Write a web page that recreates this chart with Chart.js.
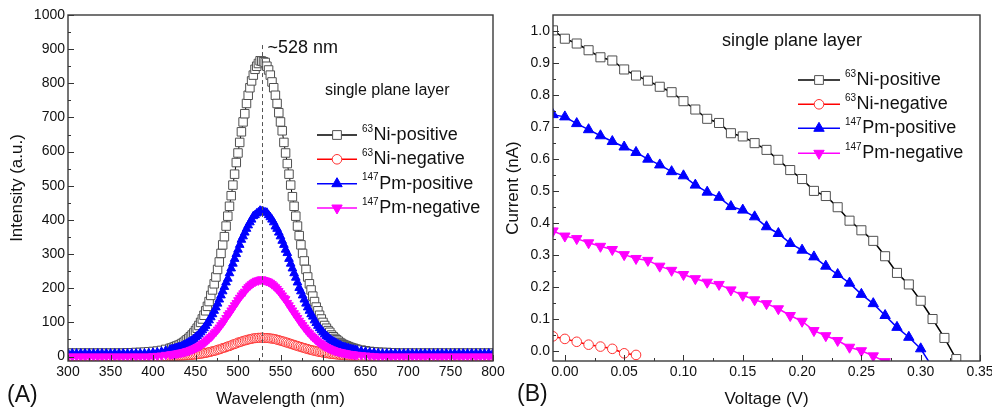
<!DOCTYPE html>
<html>
<head>
<meta charset="utf-8">
<title>Radioluminescence spectra and I-V curves</title>
<script src="https://cdn.jsdelivr.net/npm/chart.js@4.4.1/dist/chart.umd.min.js"></script>
<style>
  html, body { margin: 0; padding: 0; background: #fff; overflow: hidden; }
  #wrap { position: relative; width: 992px; height: 408px; overflow: hidden; }
  canvas { position: absolute; top: 0; }
  #specChart { left: 0; }
  #ivChart { left: 500px; }
</style>
</head>
<body>
<div id="wrap">
  <canvas id="specChart" width="510" height="408"></canvas>
  <canvas id="ivChart" width="500" height="408"></canvas>
</div>
<script>
// ---- (A) emission spectra ----
// 5 nm steps in the flat wings, 2 nm across the emission band
const wavelength = [
  300, 305, 310, 315, 320, 325, 330, 335, 340, 345, 350, 355, 360, 365, 370, 375, 380, 385, 390, 395, 400, 405, 410, 415, 420,
  422, 424, 426, 428, 430, 432, 434, 436, 438, 440, 442, 444, 446, 448, 450, 452, 454, 456, 458, 460, 462, 464, 466, 468, 470,
  472, 474, 476, 478, 480, 482, 484, 486, 488, 490, 492, 494, 496, 498, 500, 502, 504, 506, 508, 510, 512, 514, 516, 518, 520,
  522, 524, 526, 528, 530, 532, 534, 536, 538, 540, 542, 544, 546, 548, 550, 552, 554, 556, 558, 560, 562, 564, 566, 568, 570,
  572, 574, 576, 578, 580, 582, 584, 586, 588, 590, 592, 594, 596, 598, 600, 602, 604, 606, 608, 610, 612, 614, 616, 618, 620,
  622, 624, 626, 628, 630, 632, 634, 636, 638, 640,
  645, 650, 655, 660, 665, 670, 675, 680, 685, 690, 695, 700, 705, 710, 715, 720, 725, 730, 735, 740, 745, 750, 755, 760, 765,
  770, 775, 780, 785, 790, 795, 800
];

const niPositive = [
  10, 10, 10, 10, 10, 10, 10, 10, 10, 10, 10, 10, 10, 10, 11, 11, 12, 12, 13, 14, 15, 16, 18, 21, 24,
  25, 27, 29, 31, 33, 35, 38, 41, 45, 49, 53, 58, 63, 69, 76, 83, 91, 100, 110, 121,
  134, 147, 161, 179, 195, 213, 233, 255, 277, 302, 327, 351, 382, 411, 440, 471, 502, 534, 568, 596,
  627, 658, 687, 711, 741, 765, 787, 807, 824, 841, 850, 858, 866,
  865,
  863, 861, 850, 839, 824, 804, 787, 765, 741, 714, 687, 661, 627, 596, 565, 534, 502, 468, 440, 411,
  382, 354, 327, 302, 280, 255, 233, 213, 195, 177, 161, 145, 134, 121, 110, 100, 91, 83, 76, 71,
  63, 58, 53, 49, 45, 41, 38, 35, 33, 31, 29, 27, 25, 24, 22, 21,
  19, 17, 15, 14, 13, 12, 12, 11, 11, 10, 10, 10, 10, 10, 10, 10, 10, 10, 10, 10, 10, 10, 10, 10, 10,
  10, 10, 10, 10, 10, 10, 10
];

const niNegative = [
  0, 0, 0, 0, 0, 0, 0, 0, 0, 0, 0, 0, 0, 0, 0, 0, 0, 0, 0, 0, 0, 0, 0, 1, 1.5,
  1.6, 1.8, 1.9, 2.1, 2.3, 2.6, 2.8, 3.1, 3.4, 3.8, 4.2, 4.6, 5.1, 5.6, 6.2, 6.8, 7.4, 8.2, 9.0, 9.8,
  10.8, 11.8, 12.8, 14.0, 15.6, 16.5, 17.9, 19.9, 20.9, 22.4, 25.0, 25.8, 27.5, 29.9, 30.6, 32.9, 35.4, 36.6, 38.4, 41.2,
  42.0, 43.7, 46.0, 46.9, 48.3, 49.9, 50.8, 51.9, 53.4, 53.6, 54.2, 55.1, 54.9,
  55.6,
  54.9, 54.2, 54.3, 53.9, 53.0, 52.6, 51.8, 50.8, 49.3, 48.0, 46.5, 45.0, 43.9, 41.7, 40.8, 38.6, 37.6, 35.4, 34.5, 32.2,
  31.2, 29.1, 28.3, 26.0, 25.2, 23.1, 22.3, 20.3, 19.5, 17.8, 17.0, 15.4, 14.8, 13.3, 12.8, 11.5, 11.0, 9.8, 9.3, 8.3,
  7.9, 7.1, 6.7, 6.0, 5.7, 5.1, 4.8, 4.3, 4.0, 3.6, 3.4, 3.0, 2.8, 2.6, 2.4, 2.2,
  2, 1.5, 1, 0.5, 0, 0, 0, 0, 0, 0, 0, 0, 0, 0, 0, 0, 0, 0, 0, 0, 0, 0, 0, 0, 0,
  0, 0, 0, 0, 0, 0, 0
];

const pmPositive = [
  9, 9, 9, 9, 9, 9, 9, 9, 9, 9, 9, 9, 9, 9, 9, 9, 9, 9, 9, 10, 11, 12, 14, 17, 20,
  21, 22, 24, 25, 27, 28, 30, 33, 35, 38, 41, 44, 47, 51, 56, 60, 65, 71, 77, 83,
  90, 98, 106, 115, 124, 134, 144, 155, 167, 179, 191, 204, 217, 228, 244, 258, 272, 286, 300, 313,
  327, 342, 352, 363, 374, 384, 393, 401, 411, 414, 419, 422, 427,
  425,
  424, 422, 421, 414, 408, 401, 393, 381, 374, 363, 352, 339, 327, 313, 303, 286, 272, 258, 244, 231,
  217, 201, 191, 179, 167, 155, 144, 134, 124, 117, 106, 98, 90, 83, 77, 71, 65, 60, 56, 51,
  47, 44, 41, 38, 35, 33, 30, 28, 27, 25, 24, 22, 21, 20, 19, 18,
  16, 14, 12, 11, 10, 9, 9, 9, 9, 9, 9, 9, 9, 9, 9, 9, 9, 9, 9, 9, 9, 9, 9, 9, 9,
  9, 9, 9, 9, 9, 9, 9
];

const pmNegative = [
  0, 0, 0, 0, 0, 0, 0, 0, 0, 0, 0, 0, 0, 0, 0, 0, 0, 0, 0, 0, 1, 2, 3, 5, 6,
  7, 7, 8, 9, 10, 11, 12, 13, 14, 16, 17, 19, 21, 23, 25, 28, 30, 33, 37, 40,
  44, 48, 53, 57, 62, 68, 73, 79, 85, 92, 98, 105, 113, 122, 127, 135, 142, 150, 157, 165,
  172, 179, 185, 190, 198, 203, 208, 212, 216, 219, 222, 223, 225,
  226,
  224, 223, 221, 219, 216, 212, 208, 203, 198, 192, 185, 179, 172, 168, 157, 150, 142, 135, 127, 120,
  113, 105, 98, 92, 85, 79, 73, 68, 62, 57, 53, 48, 44, 40, 37, 33, 30, 28, 25, 23,
  21, 19, 17, 16, 14, 13, 12, 11, 10, 9, 8, 7, 7, 6, 5, 5,
  4, 3, 2, 1, 0, 0, 0, 0, 0, 0, 0, 0, 0, 0, 0, 0, 0, 0, 0, 0, 0, 0, 0, 0, 0,
  0, 0, 0, 0, 0, 0, 0
];

const peakWavelength = 528;

// ---- (B) current-voltage curves ----
const voltage = [
  -0.01, 0.00, 0.01, 0.02, 0.03, 0.04, 0.05, 0.06, 0.07, 0.08, 0.09, 0.10, 0.11, 0.12, 0.13, 0.14, 0.15, 0.16,
  0.17, 0.18, 0.19, 0.20, 0.21, 0.22, 0.23, 0.24, 0.25, 0.26, 0.27, 0.28, 0.29, 0.30, 0.31, 0.32, 0.33
];
const ivNiPositive = [
  1.002, 0.976, 0.961, 0.940, 0.918, 0.908, 0.880, 0.861, 0.845, 0.826, 0.809, 0.781, 0.755, 0.726, 0.713, 0.681, 0.671, 0.650,
  0.629, 0.598, 0.566, 0.538, 0.501, 0.485, 0.450, 0.408, 0.378, 0.345, 0.297, 0.245, 0.209, 0.158, 0.101, 0.042, -0.024
];
const ivNiNegative = [0.047, 0.039, 0.030, 0.021, 0.015, 0.008, -0.006, -0.011];
const ivPmPositive = [
  0.739, 0.732, 0.711, 0.692, 0.673, 0.655, 0.638, 0.621, 0.600, 0.582, 0.561, 0.548, 0.519, 0.497, 0.481, 0.452, 0.441, 0.420,
  0.389, 0.368, 0.337, 0.316, 0.295, 0.266, 0.240, 0.213, 0.178, 0.149, 0.112, 0.075, 0.044, 0.008, -0.050
];
const ivPmNegative = [
  0.376, 0.360, 0.352, 0.339, 0.328, 0.318, 0.302, 0.290, 0.284, 0.266, 0.253, 0.240, 0.227, 0.216, 0.209, 0.192, 0.175, 0.161,
  0.149, 0.133, 0.112, 0.094, 0.065, 0.049, 0.034, 0.013, 0.002, -0.014, -0.032
];

// tick labels
const specTicksX = [300, 350, 400, 450, 500, 550, 600, 650, 700, 750, 800];
const specTicksY = [0, 100, 200, 300, 400, 500, 600, 700, 800, 900, 1000];
const ivTicksX = [0.00, 0.05, 0.10, 0.15, 0.20, 0.25, 0.30, 0.35];
const ivTicksY = [0.0, 0.1, 0.2, 0.3, 0.4, 0.5, 0.6, 0.7, 0.8, 0.9, 1.0];

// legend text
const legendTitle = 'single plane layer';
const isotopes = ['63', '63', '147', '147'];
const seriesNames = ['Ni-positive', 'Ni-negative', 'Pm-positive', 'Pm-negative'];

const FONT = '"Liberation Sans", Arial, Helvetica, sans-serif';
const INK = '#111';

const looks = [
  { line: '#000000', edge: '#505050', fill: '#ffffff', style: 'rect', rot: 0 },
  { line: '#ff0000', edge: '#ff3030', fill: '#ffffff', style: 'circle', rot: 0 },
  { line: '#0000ff', edge: '#0000ff', fill: '#0000ff', style: 'triangle', rot: 0 },
  { line: '#ff00ff', edge: '#ff00ff', fill: '#ff00ff', style: 'triangle', rot: 180 }
];

const xy = (xs, ys) => ys.map((y, i) => ({ x: xs[i], y }));

function makeSet(i, data, radius, lineWidth) {
  const m = looks[i];
  return {
    label: isotopes[i] + seriesNames[i],
    data,
    borderColor: m.line,
    borderWidth: lineWidth,
    pointStyle: m.style,
    pointRotation: m.rot,
    pointRadius: radius,
    pointBorderColor: m.edge,
    pointBackgroundColor: m.fill,
    pointBorderWidth: 1,
    tension: 0,
    order: 4 - i // first series at the bottom, last one on top
  };
}

function drawMarker(ctx, i, x, y, r) {
  const m = looks[i];
  ctx.save();
  ctx.translate(x, y);
  ctx.rotate(m.rot * Math.PI / 180);
  ctx.beginPath();
  if (m.style === 'rect') {
    const s = r * Math.SQRT1_2;
    ctx.rect(-s, -s, 2 * s, 2 * s);
  } else if (m.style === 'circle') {
    ctx.arc(0, 0, r, 0, 2 * Math.PI);
  } else {
    for (let k = 0; k < 3; k++) {
      const a = k * 2 * Math.PI / 3;
      ctx.lineTo(Math.sin(a) * r, -Math.cos(a) * r);
    }
    ctx.closePath();
  }
  ctx.fillStyle = m.fill;
  ctx.fill();
  ctx.lineWidth = 1;
  ctx.strokeStyle = m.edge;
  ctx.stroke();
  ctx.restore();
}

const mids = arr => arr.slice(1).map((v, i) => (v + arr[i]) / 2);

// box frame plus inward major/minor ticks
const frameTicks = {
  id: 'frameTicks',
  afterDatasetsDraw(chart, args, o) {
    const { ctx, chartArea: a, scales: { x, y } } = chart;
    ctx.save();
    ctx.strokeStyle = '#333';
    ctx.lineWidth = 1;
    ctx.beginPath();
    const vTick = (v, len) => {
      const p = Math.round(x.getPixelForValue(v)) + 0.5;
      ctx.moveTo(p, a.bottom); ctx.lineTo(p, a.bottom - len);
    };
    const hTick = (v, len) => {
      const p = Math.round(y.getPixelForValue(v)) + 0.5;
      ctx.moveTo(a.left, p); ctx.lineTo(a.left + len, p);
    };
    o.x.forEach(v => vTick(v, 6));
    mids(o.x).forEach(v => vTick(v, 3));
    o.y.forEach(v => hTick(v, 6));
    mids(o.y).forEach(v => hTick(v, 3));
    ctx.stroke();
    ctx.lineWidth = 1.4;
    ctx.strokeStyle = '#3a3a3a';
    ctx.strokeRect(a.left, a.top, a.right - a.left, a.bottom - a.top);
    ctx.restore();
  }
};

// in-plot legend with superscript mass numbers, plus the panel letter
const legendBox = {
  id: 'legendBox',
  afterDraw(chart, args, o) {
    const ctx = chart.ctx;
    ctx.save();
    ctx.textBaseline = 'middle';
    ctx.textAlign = 'left';
    ctx.fillStyle = INK;
    ctx.font = `${o.titleSize}px ${FONT}`;
    ctx.fillText(legendTitle, o.titleX, o.titleY);
    seriesNames.forEach((name, i) => {
      const y = o.rowY[i];
      ctx.strokeStyle = looks[i].line;
      ctx.lineWidth = 1.5;
      ctx.beginPath();
      ctx.moveTo(o.lineX[0], y);
      ctx.lineTo(o.lineX[1], y);
      ctx.stroke();
      drawMarker(ctx, i, (o.lineX[0] + o.lineX[1]) / 2, y, o.markerR[i]);
      ctx.fillStyle = INK;
      ctx.font = `10px ${FONT}`;
      ctx.fillText(isotopes[i], o.textX, y - 6);
      const w = ctx.measureText(isotopes[i]).width;
      ctx.font = `18px ${FONT}`;
      ctx.fillText(name, o.textX + w + 0.5, y);
    });
    ctx.font = `23px ${FONT}`;
    ctx.fillText(o.panel, o.panelX, o.panelY);
    ctx.restore();
  }
};

// dashed marker at the emission peak
const peakMark = {
  id: 'peakMark',
  afterDatasetsDraw(chart) {
    const { ctx, chartArea: a, scales: { x, y } } = chart;
    const px = Math.round(x.getPixelForValue(peakWavelength)) + 0.5;
    ctx.save();
    ctx.strokeStyle = '#555';
    ctx.lineWidth = 1;
    ctx.setLineDash([4, 3]);
    ctx.beginPath();
    ctx.moveTo(px, y.getPixelForValue(912));
    ctx.lineTo(px, a.bottom);
    ctx.stroke();
    ctx.setLineDash([]);
    ctx.fillStyle = INK;
    ctx.font = `18px ${FONT}`;
    ctx.textBaseline = 'middle';
    ctx.fillText(`~${peakWavelength} nm`, px + 5, y.getPixelForValue(903));
    ctx.restore();
  }
};

function linearAxis(min, max, ticks, fmt, title, fit) {
  return {
    type: 'linear',
    min, max,
    grid: { display: false, drawTicks: false },
    border: { display: false },
    afterBuildTicks: s => { s.ticks = ticks.map(v => ({ value: v })); },
    afterFit: fit,
    ticks: {
      padding: 3, color: INK, autoSkip: false, maxRotation: 0,
      font: { family: FONT, size: 14 },
      callback: fmt
    },
    title: {
      display: true, text: title.text, color: INK,
      font: { family: FONT, size: 17 },
      padding: title.padding
    }
  };
}

const common = {
  responsive: false,
  animation: false,
  events: [],
  devicePixelRatio: 1,
  plugins: { legend: { display: false }, tooltip: { enabled: false } }
};

new Chart(document.getElementById('specChart'), {
  type: 'line',
  data: {
    datasets: [
      makeSet(0, xy(wavelength, niPositive), 6, 1),
      makeSet(1, xy(wavelength, niNegative), 4.5, 1),
      makeSet(2, xy(wavelength, pmPositive), 5, 1),
      makeSet(3, xy(wavelength, pmNegative), 5, 1)
    ]
  },
  options: {
    ...common,
    layout: { padding: { top: 15, right: 17, bottom: 0, left: 0 } },
    scales: {
      x: linearAxis(300, 800, specTicksX, v => String(v),
        { text: 'Wavelength (nm)', padding: { top: 0, bottom: -2 } }, s => { s.height = 47; }),
      y: linearAxis(-13, 1000, specTicksY, v => String(v),
        { text: 'Intensity (a.u.)', padding: { top: 7, bottom: 0 } }, s => { s.width = 68; })
    },
    plugins: {
      ...common.plugins,
      frameTicks: { x: specTicksX, y: specTicksY },
      legendBox: {
        titleX: 325, titleY: 91, titleSize: 16,
        rowY: [135, 159.3, 183.7, 208], lineX: [317, 357], textX: 362,
        markerR: [6.2, 4.8, 6, 6],
        panel: '(A)', panelX: 7, panelY: 396
      }
    }
  },
  plugins: [frameTicks, peakMark, legendBox]
});

new Chart(document.getElementById('ivChart'), {
  type: 'line',
  data: {
    datasets: [
      makeSet(0, xy(voltage, ivNiPositive), 6.4, 1.5),
      makeSet(1, xy(voltage, ivNiNegative), 4.8, 1.5),
      makeSet(2, xy(voltage, ivPmPositive), 6, 1.5),
      makeSet(3, xy(voltage, ivPmNegative), 6, 1.5)
    ]
  },
  options: {
    ...common,
    layout: { padding: { top: 15, right: 20, bottom: 0, left: 0 } },
    scales: {
      x: linearAxis(-0.01, 0.35, ivTicksX, v => v.toFixed(2),
        { text: 'Voltage (V)', padding: { top: 0, bottom: -2 } }, s => { s.height = 47; }),
      y: linearAxis(-0.03, 1.05, ivTicksY, v => v.toFixed(1),
        { text: 'Current (nA)', padding: { top: 3, bottom: 0 } }, s => { s.width = 53; })
    },
    plugins: {
      ...common.plugins,
      frameTicks: { x: ivTicksX, y: ivTicksY },
      legendBox: {
        titleX: 222, titleY: 41, titleSize: 18,
        rowY: [80, 104.3, 128.3, 153.3], lineX: [298, 340], textX: 345,
        markerR: [6.2, 4.8, 6, 6],
        panel: '(B)', panelX: 17, panelY: 395
      }
    }
  },
  plugins: [frameTicks, legendBox]
});
</script>
</body>
</html>
